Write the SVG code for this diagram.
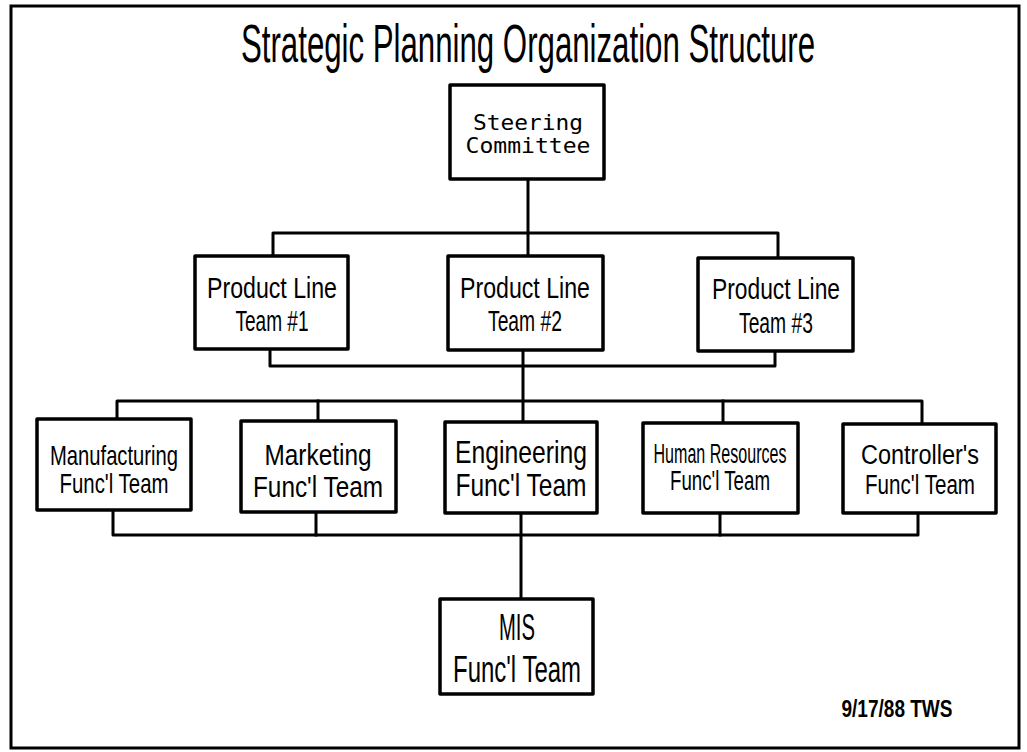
<svg xmlns="http://www.w3.org/2000/svg" width="1027" height="752" viewBox="0 0 1027 752">
<style>
.box{fill:#fff;stroke:#000;stroke-width:3.5;stroke-linejoin:round}
.ln{fill:none;stroke:#000;stroke-width:3;stroke-linejoin:round;stroke-linecap:square}
.t{font-family:"Liberation Sans",Arial,sans-serif;fill:#000;text-anchor:middle}
.m{font-family:"DejaVu Sans Mono","Liberation Mono",monospace;fill:#000;text-anchor:middle}
</style>
<rect x="0" y="0" width="1027" height="752" fill="#fff"/>
<rect x="11" y="6" width="1008" height="742" fill="none" stroke="#000" stroke-width="3"/>
<text class="t" x="528" y="62" font-size="54" textLength="574" lengthAdjust="spacingAndGlyphs">Strategic Planning Organization Structure</text>
<g id="connectors">
<path class="ln" d="M528,179 V256"/>
<path class="ln" d="M273,256 V233 H778 V258"/>
<path class="ln" d="M270,349 V366 H775 V351"/>
<path class="ln" d="M523,350 V422"/>
<path class="ln" d="M117,419 V401 H922 V424"/>
<path class="ln" d="M318,401 V421"/>
<path class="ln" d="M723,401 V423"/>
<path class="ln" d="M113,510 V535 H918 V513"/>
<path class="ln" d="M316,512 V535"/>
<path class="ln" d="M720,513 V535"/>
<path class="ln" d="M521,513 V599"/>
</g>
<g id="steering">
<rect class="box" x="450" y="85" width="154" height="94"/>
<text class="m" x="528" y="130" font-size="22" textLength="110" lengthAdjust="spacingAndGlyphs">Steering</text>
<text class="m" x="528" y="153" font-size="22" textLength="125" lengthAdjust="spacingAndGlyphs">Committee</text>
</g>
<g id="pl1">
<rect class="box" x="195" y="256" width="153" height="93"/>
<text class="t" x="272" y="298" font-size="30" textLength="130" lengthAdjust="spacingAndGlyphs">Product Line</text>
<text class="t" x="272" y="331" font-size="30" textLength="73" lengthAdjust="spacingAndGlyphs">Team #1</text>
</g>
<g id="pl2">
<rect class="box" x="448" y="256" width="155" height="94"/>
<text class="t" x="525" y="298" font-size="30" textLength="130" lengthAdjust="spacingAndGlyphs">Product Line</text>
<text class="t" x="525" y="331" font-size="30" textLength="74" lengthAdjust="spacingAndGlyphs">Team #2</text>
</g>
<g id="pl3">
<rect class="box" x="698" y="258" width="155" height="93"/>
<text class="t" x="776" y="299" font-size="30" textLength="128" lengthAdjust="spacingAndGlyphs">Product Line</text>
<text class="t" x="776" y="333" font-size="30" textLength="74" lengthAdjust="spacingAndGlyphs">Team #3</text>
</g>
<g id="manufacturing">
<rect class="box" x="37" y="419" width="154" height="91"/>
<text class="t" x="114" y="465" font-size="28" textLength="128" lengthAdjust="spacingAndGlyphs">Manufacturing</text>
<text class="t" x="114" y="493" font-size="28" textLength="109" lengthAdjust="spacingAndGlyphs">Func'l Team</text>
</g>
<g id="marketing">
<rect class="box" x="241" y="421" width="155" height="91"/>
<text class="t" x="318" y="465" font-size="30" textLength="107" lengthAdjust="spacingAndGlyphs">Marketing</text>
<text class="t" x="318" y="497" font-size="30" textLength="130" lengthAdjust="spacingAndGlyphs">Func'l Team</text>
</g>
<g id="engineering">
<rect class="box" x="445" y="422" width="152" height="91"/>
<text class="t" x="521" y="463" font-size="32" textLength="132" lengthAdjust="spacingAndGlyphs">Engineering</text>
<text class="t" x="521" y="496" font-size="32" textLength="131" lengthAdjust="spacingAndGlyphs">Func'l Team</text>
</g>
<g id="hr">
<rect class="box" x="643" y="423" width="155" height="90"/>
<text class="t" x="720" y="463" font-size="27" textLength="133" lengthAdjust="spacingAndGlyphs">Human Resources</text>
<text class="t" x="720" y="490" font-size="27" textLength="100" lengthAdjust="spacingAndGlyphs">Func'l Team</text>
</g>
<g id="controller">
<rect class="box" x="843" y="424" width="153" height="89"/>
<text class="t" x="920" y="464" font-size="27" textLength="118" lengthAdjust="spacingAndGlyphs">Controller's</text>
<text class="t" x="920" y="494" font-size="27" textLength="110" lengthAdjust="spacingAndGlyphs">Func'l Team</text>
</g>
<g id="mis">
<rect class="box" x="440" y="599" width="153" height="95"/>
<text class="t" x="517" y="640" font-size="37" textLength="36" lengthAdjust="spacingAndGlyphs">MIS</text>
<text class="t" x="517" y="682" font-size="37" textLength="128" lengthAdjust="spacingAndGlyphs">Func'l Team</text>
</g>
<text class="t" x="897" y="717" font-size="23" font-weight="bold" textLength="111" lengthAdjust="spacingAndGlyphs">9/17/88 TWS</text>
</svg>
